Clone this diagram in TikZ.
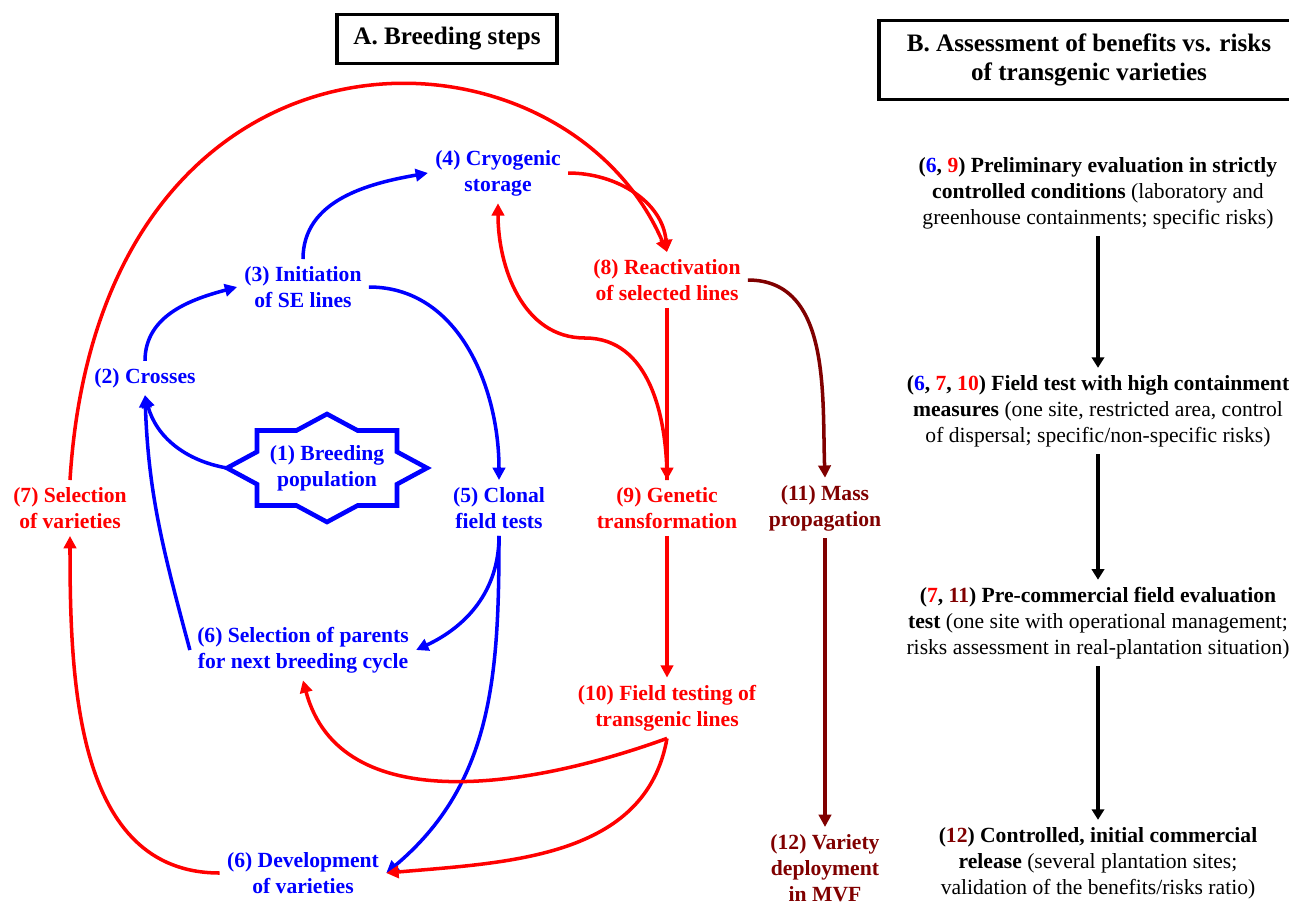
\documentclass[tikz,border=0pt]{standalone}
\usepackage{fontspec}
\setmainfont{Liberation Serif}
\usepackage{tikz}
\usetikzlibrary{positioning,arrows.meta,calc}
\definecolor{bsBlue}{RGB}{0,0,255}
\definecolor{bsRed}{RGB}{255,0,0}
\definecolor{bsMaroon}{RGB}{128,0,0}

\begin{document}
\begin{tikzpicture}[
  x=0.02cm, y=-0.02cm,
  every node/.style={font=\fontsize{12.3}{14.8}\selectfont, align=center, inner sep=4pt},
  stepblue/.style={font=\fontsize{12.3}{14.8}\selectfont\bfseries, text=bsBlue},
  stepred/.style={font=\fontsize{12.3}{14.8}\selectfont\bfseries, text=bsRed},
  stepmaroon/.style={font=\fontsize{12.3}{14.8}\selectfont\bfseries, text=bsMaroon},
  titlebox/.style={draw, line width=1.8pt, font=\fontsize{14.3}{16.5}\selectfont\bfseries},
  assess/.style={font=\fontsize{12.3}{14.8}\selectfont},
  bluearrow/.style={-{Triangle[length=7pt,width=7pt]}, line width=2pt, bsBlue},
  redarrow/.style={-{Triangle[length=7pt,width=7pt]}, line width=2pt, bsRed},
  maroonarrow/.style={-{Triangle[length=7pt,width=7pt]}, line width=2pt, bsMaroon},
  blackarrow/.style={-{Triangle[length=6pt,width=7pt]}, line width=2pt, black}
]
\useasboundingbox (0,0) rectangle (1289,907);

% Panel titles
\node[titlebox, minimum width=4.4cm, minimum height=0.98cm] (titleA) at (447,39) {A. Breeding steps};
\begin{scope}
  \clip (0,0) rectangle (1289,907);
  \node[titlebox, minimum width=8.4cm, minimum height=1.58cm] (titleB) at (1089,60)
    {B. Assessment of benefits vs. risks\\of transgenic varieties};
\end{scope}

% A. Breeding steps
\node[stepblue] (breed) at (327,468) {(1) Breeding\\population};
\draw[bsBlue, line width=2.6pt, line join=miter, shift={(breed.center)}]
  (0,-54) -- (30.6,-37.5) -- (70,-37.5) -- (70,-16.2) -- (100,0) -- (70,16.2)
  -- (70,37.5) -- (30.6,37.5) -- (0,54) -- (-30.6,37.5) -- (-70,37.5) -- (-70,16.2)
  -- (-100,0) coordinate (breedL) -- (-70,-16.2) -- (-70,-37.5) -- (-30.6,-37.5) -- cycle;

\node[stepblue] (crosses) at (145,378) {(2) Crosses};
\node[stepblue] (init) at (303,287) {(3) Initiation\\of SE lines};
\node[stepblue] (cryo) at (498,173) {(4) Cryogenic\\storage};
\node[stepblue] (clonal) at (499,508) {(5) Clonal\\field tests};
\node[stepblue] (selpar) at (303,650) {(6) Selection of parents\\for next breeding cycle};
\node[stepblue] (devvar) at (303,873) {(6) Development\\of varieties};

\node[stepred] (selvar) at (70,508) {(7) Selection\\of varieties};
\node[stepred] (react) at (667,280) {(8) Reactivation\\of selected lines};
\node[stepred] (genetic) at (667,508) {(9) Genetic\\transformation};
\node[stepred] (fieldtest) at (667,708) {(10) Field testing of\\transgenic lines};

\node[stepmaroon] (mass) at (825,508) {(11) Mass\\propagation};
\node[stepmaroon] (deploy) at (825,868) {(12) Variety\\deployment\\in MVF};

% B. Assessment of benefits vs. risks
\node[assess] (evalA) at (1098,193)
  {\textbf{(\textcolor{bsBlue}{6}, \textcolor{bsRed}{9}) Preliminary evaluation in strictly}\\
   \textbf{controlled conditions} (laboratory and\\
   greenhouse containments; specific risks)};
\node[assess] (evalB) at (1098,411)
  {\textbf{(\textcolor{bsBlue}{6}, \textcolor{bsRed}{7}, \textcolor{bsRed}{10}) Field test with high containment}\\
   \textbf{measures} (one site, restricted area, control\\
   of dispersal; specific/non-specific risks)};
\node[assess] (evalC) at (1098,623)
  {\textbf{(\textcolor{bsRed}{7}, \textcolor{bsMaroon}{11}) Pre-commercial field evaluation}\\
   \textbf{test} (one site with operational management;\\
   risks assessment in real-plantation situation)};
\node[assess] (evalD) at (1098,863)
  {\textbf{(\textcolor{bsMaroon}{12}) Controlled, initial commercial}\\
   \textbf{release} (several plantation sites;\\
   validation of the benefits/risks ratio)};

% Arrows - conventional cycle
\draw[bluearrow] (breedL) to[out=170,in=-75] (crosses.south);
\draw[bluearrow] (selpar.west) to[out=105,in=-88] (crosses.south);
\draw[bluearrow] (crosses.north) to[out=90,in=195] (init.west);
\draw[bluearrow] (init.north) to[out=90,in=190] (cryo.west);
\draw[bluearrow] (init.east) to[out=0,in=90] (clonal.north);
\draw[bluearrow] (clonal.south) to[out=-90,in=25] (selpar.east);
\draw[bluearrow] (clonal.south) to[out=-90,in=40] (devvar.east);

% Arrows - transgenic branch
\coordinate (sbend) at (585,338);
\draw[redarrow] (selvar.north) .. controls (100,-5) and (560,5) .. (react.north);
\draw[redarrow] (cryo.east) to[out=0,in=95] (react.north);
\draw[redarrow] (react.south) -- (genetic.north);
\draw[redarrow] (genetic.north) to[out=90,in=0] (sbend) to[out=180,in=-90] (cryo.south);
\draw[redarrow] (genetic.south) -- (fieldtest.north);
\draw[redarrow] (fieldtest.south) to[out=200,in=-75] (selpar.south);
\draw[redarrow] (fieldtest.south) to[out=-100,in=5] (devvar.east);
\draw[redarrow] (devvar.west) to[out=180,in=-90] (selvar.south);

% Arrows - deployment
\draw[maroonarrow] (react.east) to[out=0,in=92] (mass.north);
\draw[maroonarrow] (mass.south) -- (deploy.north);

% Arrows - assessment chain
\draw[blackarrow] (evalA.south) -- (evalB.north);
\draw[blackarrow] (evalB.south) -- (evalC.north);
\draw[blackarrow] (evalC.south) -- (evalD.north);

\end{tikzpicture}
\end{document}
